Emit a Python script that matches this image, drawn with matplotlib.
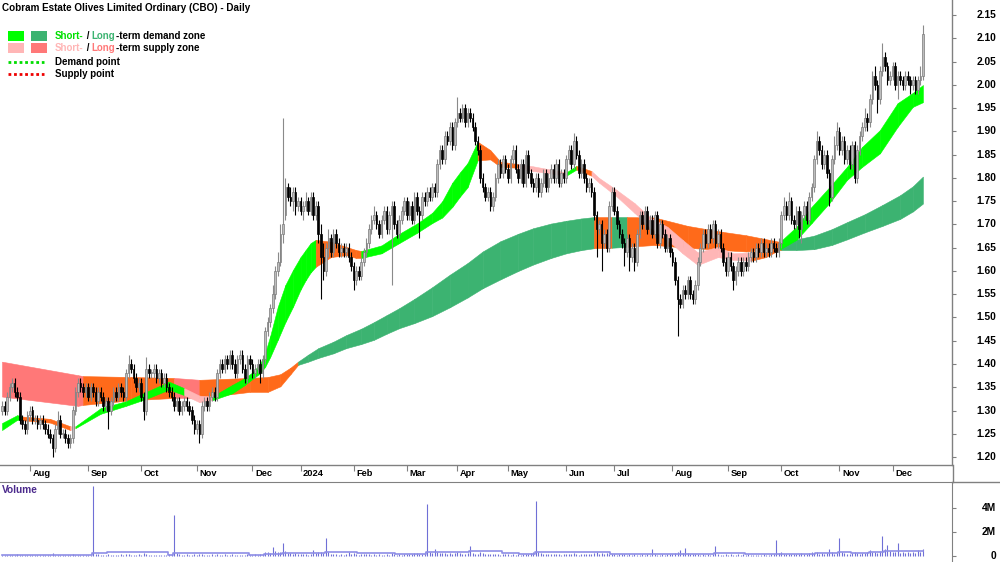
import numpy as np
import pandas as pd
import matplotlib
matplotlib.use("Agg")
import matplotlib.pyplot as plt
import matplotlib.transforms as mtransforms
from matplotlib import font_manager
from matplotlib.lines import Line2D
from matplotlib.patches import Rectangle

# ---------------- data ----------------
start_date = "2023-07-17"
end_date = "2024-12-18"
asx_holidays = ["2023-12-25", "2023-12-26", "2024-01-01", "2024-01-26",
                "2024-03-29", "2024-04-01", "2024-04-25", "2024-06-10"]

opens = [
 1.30,1.31,1.30,1.33,1.35,1.36,1.34,1.33,1.28,1.27, 1.26,1.29,1.30,1.28,1.28,1.27,1.28,1.27,1.26,1.25,
 1.24,1.22,1.26,1.28,1.25,1.25,1.24,1.23,1.24,1.30, 1.34,1.36,1.35,1.34,1.35,1.33,1.35,1.34,1.32,1.34,
 1.33,1.31,1.32,1.30,1.32,1.34,1.33,1.35,1.34,1.33, 1.38,1.40,1.39,1.37,1.35,1.36,1.33,1.30,1.39,1.38,
 1.38,1.39,1.37,1.38,1.36,1.37,1.35,1.34,1.33,1.31, 1.32,1.30,1.31,1.32,1.31,1.30,1.28,1.26,1.27,1.25,
 1.31,1.32,1.31,1.33,1.34,1.33,1.38,1.40,1.39,1.41, 1.40,1.42,1.40,1.38,1.41,1.42,1.39,1.37,1.41,1.40,
 1.38,1.39,1.40,1.38,1.41,1.47,1.49,1.52,1.55,1.60, 1.62,1.68,1.72,1.78,1.76,1.75,1.77,1.74,1.75,1.73,
 1.74,1.75,1.73,1.76,1.72,1.74,1.68,1.63,1.60,1.65, 1.67,1.64,1.68,1.66,1.64,1.65,1.64,1.65,1.63,1.61,
 1.58,1.60,1.59,1.62,1.64,1.66,1.69,1.71,1.72,1.70, 1.68,1.71,1.73,1.69,1.72,1.74,1.70,1.68,1.71,1.73,
 1.75,1.72,1.74,1.71,1.76,1.73,1.72,1.76,1.75,1.77, 1.76,1.78,1.77,1.83,1.86,1.84,1.89,1.88,1.91,1.87,
 1.92,1.94,1.93,1.95,1.92,1.94,1.93,1.91,1.88,1.86, 1.80,1.78,1.76,1.77,1.74,1.76,1.80,1.83,1.81,1.84,
 1.82,1.80,1.84,1.86,1.82,1.80,1.83,1.79,1.85,1.81, 1.79,1.78,1.80,1.77,1.79,1.81,1.78,1.80,1.82,1.80,
 1.83,1.79,1.81,1.80,1.84,1.86,1.83,1.88,1.85,1.81, 1.83,1.80,1.78,1.79,1.77,1.72,1.69,1.70,1.66,1.68,
 1.65,1.74,1.77,1.73,1.70,1.68,1.66,1.64,1.67,1.63, 1.65,1.62,1.68,1.72,1.70,1.73,1.69,1.71,1.68,1.72,
 1.66,1.70,1.68,1.65,1.67,1.64,1.62,1.58,1.54,1.53, 1.56,1.55,1.58,1.55,1.54,1.57,1.62,1.65,1.68,1.66,
 1.69,1.67,1.70,1.66,1.68,1.65,1.62,1.60,1.63,1.61, 1.58,1.60,1.62,1.60,1.62,1.61,1.63,1.64,1.63,1.65,
 1.64,1.66,1.64,1.65,1.64,1.66,1.65,1.64,1.66,1.72, 1.74,1.72,1.75,1.71,1.70,1.73,1.69,1.72,1.74,1.71,
 1.76,1.78,1.84,1.88,1.86,1.83,1.85,1.81,1.76,1.84, 1.87,1.90,1.86,1.88,1.84,1.86,1.83,1.87,1.80,1.86,
 1.89,1.91,1.93,1.92,1.97,2.02,2.00,1.97,2.03,2.06, 2.04,2.01,2.02,2.04,2.00,2.02,2.01,2.00,2.02,2.01,
 2.00,2.01,1.99,2.01,2.02]

highs = [
 1.32,1.32,1.34,1.36,1.37,1.37,1.35,1.34,1.29,1.28, 1.30,1.31,1.31,1.29,1.29,1.29,1.29,1.28,1.27,1.26,
 1.25,1.27,1.30,1.29,1.26,1.26,1.25,1.25,1.31,1.35, 1.37,1.37,1.36,1.36,1.36,1.36,1.36,1.35,1.35,1.35,
 1.34,1.33,1.33,1.33,1.35,1.35,1.36,1.36,1.35,1.39, 1.42,1.41,1.40,1.38,1.37,1.37,1.34,1.415,1.40,1.39,
 1.40,1.40,1.39,1.39,1.38,1.38,1.36,1.35,1.34,1.33, 1.33,1.32,1.33,1.33,1.32,1.31,1.29,1.28,1.28,1.32,
 1.33,1.33,1.34,1.35,1.35,1.39,1.41,1.41,1.42,1.42, 1.43,1.43,1.41,1.42,1.43,1.43,1.40,1.42,1.42,1.41,
 1.40,1.41,1.41,1.42,1.48,1.50,1.53,1.57,1.61,1.64, 1.70,1.93,1.80,1.79,1.78,1.78,1.78,1.76,1.76,1.75,
 1.77,1.76,1.77,1.77,1.75,1.75,1.70,1.66,1.66,1.69, 1.68,1.69,1.69,1.67,1.66,1.66,1.66,1.66,1.64,1.62,
 1.61,1.61,1.63,1.65,1.67,1.70,1.72,1.74,1.73,1.71, 1.72,1.74,1.74,1.73,1.75,1.75,1.71,1.72,1.74,1.76,
 1.76,1.75,1.75,1.77,1.77,1.74,1.77,1.77,1.78,1.78, 1.79,1.79,1.84,1.87,1.87,1.90,1.90,1.92,1.92,1.93,
 1.975,1.95,1.96,1.96,1.95,1.95,1.94,1.92,1.89,1.87, 1.81,1.79,1.78,1.78,1.77,1.81,1.84,1.84,1.85,1.85,
 1.83,1.85,1.87,1.87,1.83,1.84,1.84,1.86,1.86,1.82, 1.80,1.81,1.81,1.80,1.82,1.82,1.81,1.83,1.83,1.84,
 1.84,1.82,1.82,1.85,1.87,1.87,1.897,1.89,1.86,1.84, 1.84,1.81,1.80,1.80,1.78,1.73,1.71,1.71,1.69,1.69,
 1.75,1.78,1.78,1.74,1.71,1.69,1.67,1.68,1.68,1.66, 1.66,1.69,1.73,1.73,1.74,1.74,1.72,1.72,1.73,1.73,
 1.71,1.71,1.69,1.68,1.68,1.65,1.63,1.59,1.55,1.57, 1.57,1.59,1.59,1.56,1.58,1.63,1.66,1.69,1.69,1.70,
 1.70,1.71,1.71,1.69,1.69,1.66,1.63,1.64,1.64,1.62, 1.61,1.63,1.63,1.63,1.63,1.64,1.65,1.65,1.66,1.66,
 1.67,1.67,1.66,1.66,1.67,1.67,1.66,1.67,1.73,1.76, 1.75,1.77,1.76,1.72,1.74,1.74,1.73,1.75,1.75,1.77,
 1.79,1.85,1.90,1.89,1.87,1.86,1.86,1.82,1.85,1.89, 1.92,1.91,1.89,1.89,1.87,1.87,1.88,1.88,1.87,1.90,
 1.92,1.95,1.94,1.98,2.03,2.04,2.01,2.04,2.09,2.07, 2.05,2.03,2.05,2.05,2.03,2.03,2.02,2.03,2.03,2.02,
 2.02,2.02,2.02,2.04,2.13]

lows = [
 1.29,1.29,1.29,1.32,1.34,1.33,1.32,1.27,1.26,1.25, 1.25,1.28,1.27,1.27,1.26,1.26,1.26,1.25,1.24,1.23,
 1.20,1.21,1.25,1.24,1.24,1.23,1.22,1.22,1.23,1.29, 1.33,1.34,1.33,1.33,1.32,1.32,1.33,1.31,1.31,1.32,
 1.30,1.30,1.26,1.29,1.31,1.32,1.32,1.33,1.32,1.32, 1.37,1.38,1.36,1.34,1.34,1.32,1.28,1.29,1.37,1.37,
 1.37,1.36,1.36,1.35,1.35,1.34,1.33,1.32,1.30,1.30, 1.29,1.29,1.30,1.30,1.29,1.27,1.25,1.25,1.23,1.24,
 1.30,1.30,1.30,1.32,1.32,1.32,1.37,1.38,1.38,1.39, 1.39,1.39,1.37,1.37,1.40,1.38,1.36,1.36,1.39,1.37,
 1.37,1.38,1.36,1.37,1.40,1.46,1.48,1.51,1.54,1.59, 1.61,1.66,1.71,1.75,1.74,1.73,1.72,1.73,1.72,1.71,
 1.73,1.72,1.72,1.71,1.71,1.66,1.54,1.58,1.59,1.63, 1.63,1.63,1.65,1.63,1.63,1.63,1.63,1.62,1.60,1.56,
 1.57,1.58,1.58,1.61,1.63,1.65,1.68,1.70,1.69,1.67, 1.67,1.70,1.68,1.68,1.57,1.69,1.67,1.67,1.70,1.72,
 1.71,1.71,1.70,1.70,1.72,1.67,1.71,1.74,1.74,1.75, 1.75,1.76,1.76,1.82,1.83,1.83,1.87,1.87,1.86,1.86,
 1.91,1.92,1.92,1.91,1.91,1.92,1.90,1.87,1.85,1.79, 1.77,1.75,1.75,1.73,1.73,1.75,1.79,1.80,1.80,1.81,
 1.79,1.79,1.83,1.81,1.79,1.79,1.78,1.78,1.80,1.78, 1.77,1.77,1.76,1.76,1.78,1.77,1.77,1.79,1.79,1.79,
 1.78,1.78,1.79,1.79,1.83,1.82,1.82,1.84,1.80,1.80, 1.79,1.77,1.77,1.76,1.71,1.63,1.68,1.60,1.65,1.64,
 1.64,1.73,1.72,1.69,1.67,1.65,1.61,1.63,1.60,1.62, 1.60,1.61,1.67,1.69,1.69,1.68,1.68,1.67,1.67,1.65,
 1.65,1.67,1.64,1.64,1.63,1.61,1.57,1.46,1.52,1.52, 1.54,1.54,1.54,1.53,1.53,1.56,1.61,1.64,1.65,1.65,
 1.66,1.66,1.65,1.65,1.64,1.61,1.59,1.59,1.60,1.56, 1.57,1.59,1.59,1.59,1.60,1.60,1.62,1.62,1.62,1.63,
 1.63,1.63,1.63,1.63,1.63,1.64,1.63,1.63,1.65,1.71, 1.71,1.71,1.70,1.69,1.69,1.67,1.66,1.71,1.70,1.70,
 1.75,1.77,1.83,1.85,1.82,1.82,1.80,1.74,1.75,1.83, 1.86,1.85,1.85,1.83,1.83,1.82,1.82,1.79,1.79,1.85,
 1.88,1.90,1.90,1.91,1.96,1.99,1.94,1.96,2.02,2.03, 2.00,2.00,2.01,1.99,1.97,2.00,1.99,1.99,2.00,1.98,
 1.99,1.98,1.98,2.00,2.01]

closes = [
 1.31,1.30,1.33,1.35,1.36,1.34,1.33,1.28,1.27,1.26, 1.29,1.30,1.28,1.28,1.27,1.28,1.27,1.26,1.25,1.24,
 1.22,1.26,1.28,1.25,1.25,1.24,1.23,1.24,1.30,1.34, 1.36,1.35,1.34,1.35,1.33,1.35,1.34,1.32,1.34,1.33,
 1.31,1.32,1.30,1.32,1.34,1.33,1.35,1.34,1.33,1.38, 1.40,1.39,1.37,1.35,1.36,1.33,1.30,1.39,1.38,1.38,
 1.39,1.37,1.38,1.36,1.37,1.35,1.34,1.33,1.31,1.32, 1.30,1.31,1.32,1.31,1.30,1.28,1.26,1.27,1.25,1.31,
 1.32,1.31,1.33,1.34,1.33,1.38,1.40,1.39,1.41,1.40, 1.42,1.40,1.38,1.41,1.42,1.39,1.37,1.41,1.40,1.38,
 1.39,1.40,1.38,1.41,1.47,1.49,1.52,1.55,1.60,1.62, 1.68,1.70,1.78,1.76,1.75,1.77,1.74,1.75,1.73,1.74,
 1.75,1.73,1.76,1.72,1.74,1.68,1.63,1.60,1.65,1.67, 1.64,1.68,1.66,1.64,1.65,1.64,1.65,1.63,1.61,1.58,
 1.60,1.59,1.62,1.64,1.66,1.69,1.71,1.72,1.70,1.68, 1.71,1.73,1.69,1.72,1.74,1.70,1.68,1.71,1.73,1.75,
 1.72,1.74,1.71,1.76,1.73,1.72,1.76,1.75,1.77,1.76, 1.78,1.77,1.83,1.86,1.84,1.89,1.88,1.91,1.87,1.92,
 1.94,1.93,1.95,1.92,1.94,1.93,1.91,1.88,1.86,1.80, 1.78,1.76,1.77,1.74,1.76,1.80,1.83,1.81,1.84,1.82,
 1.80,1.84,1.86,1.82,1.80,1.83,1.79,1.85,1.81,1.79, 1.78,1.80,1.77,1.79,1.81,1.78,1.80,1.82,1.80,1.83,
 1.79,1.81,1.80,1.84,1.86,1.83,1.88,1.85,1.81,1.83, 1.80,1.78,1.79,1.77,1.72,1.69,1.70,1.66,1.68,1.65,
 1.74,1.77,1.73,1.70,1.68,1.66,1.64,1.67,1.63,1.65, 1.62,1.68,1.72,1.70,1.73,1.69,1.71,1.68,1.72,1.66,
 1.70,1.68,1.65,1.67,1.64,1.62,1.58,1.54,1.53,1.56, 1.55,1.58,1.55,1.54,1.57,1.62,1.65,1.68,1.66,1.69,
 1.67,1.70,1.66,1.68,1.65,1.62,1.60,1.63,1.61,1.58, 1.60,1.62,1.60,1.62,1.61,1.63,1.64,1.63,1.65,1.64,
 1.66,1.64,1.65,1.64,1.66,1.65,1.64,1.66,1.72,1.74, 1.72,1.75,1.71,1.70,1.73,1.69,1.72,1.74,1.71,1.76,
 1.78,1.84,1.88,1.86,1.83,1.85,1.81,1.76,1.84,1.87, 1.90,1.86,1.88,1.84,1.86,1.83,1.87,1.80,1.86,1.89,
 1.91,1.93,1.92,1.97,2.02,2.00,1.97,2.03,2.06,2.04, 2.01,2.02,2.04,2.00,2.02,2.01,2.00,2.02,2.01,2.00,
 2.01,1.99,2.01,2.02,2.11]

# volume in millions of shares
volume_m = [
 0.08,0.05,0.12,0.10,0.06,0.09,0.15,0.07,0.11,0.06, 0.05,0.08,0.10,0.06,0.12,0.07,0.05,0.09,0.11,0.08,
 0.22,0.10,0.07,0.06,0.09,0.05,0.08,0.12,0.15,0.10, 0.07,0.09,0.06,0.10,0.08,0.12,5.80,0.20,0.15,0.12,
 0.10,0.08,0.18,0.09,0.12,0.07,0.10,0.14,0.08,0.20, 0.16,0.12,0.10,0.08,0.13,0.09,0.25,0.15,0.10,0.08,
 0.12,0.09,0.11,0.07,0.10,0.08,0.14,0.20,3.40,0.25, 0.18,0.12,0.10,0.15,0.09,0.11,0.14,0.08,0.20,0.16,
 0.12,0.10,0.09,0.13,0.08,0.15,0.12,0.10,0.18,0.11, 0.09,0.14,0.10,0.12,0.08,0.11,0.09,0.13,0.10,0.12,
 0.15,0.10,0.20,0.18,0.35,0.30,0.25,0.75,0.40,0.35, 0.30,1.10,0.45,0.28,0.22,0.18,0.25,0.15,0.20,0.14,
 0.18,0.12,0.20,0.50,0.25,0.30,0.35,0.22,1.50,0.30, 0.20,0.15,0.18,0.12,0.16,0.10,0.14,0.30,0.18,0.22,
 0.15,0.12,0.18,0.14,0.20,0.16,0.12,0.18,0.10,0.14, 0.12,0.09,0.15,0.11,0.25,0.13,0.10,0.16,0.12,0.14,
 0.18,0.20,0.15,0.22,0.25,0.18,0.20,0.30,4.30,0.35, 0.28,0.60,0.30,0.25,0.22,0.28,0.20,0.24,0.18,0.22,
 0.30,0.25,0.20,0.18,0.22,0.80,0.25,0.20,0.18,0.30, 0.22,0.18,0.15,0.20,0.16,0.14,0.18,0.12,0.15,0.13,
 0.16,0.12,0.14,0.10,0.15,0.12,0.18,0.14,0.20,0.25, 0.30,4.60,0.35,0.25,0.20,0.18,0.15,0.20,0.16,0.14,
 0.18,0.12,0.15,0.20,0.14,0.16,0.22,0.18,0.12,0.15, 0.14,0.18,0.20,0.15,0.25,0.30,0.20,0.28,0.18,0.22,
 0.20,0.15,0.18,0.12,0.16,0.14,0.20,0.12,0.15,0.10, 0.14,0.12,0.10,0.13,0.11,0.15,0.12,0.60,0.14,0.10,
 0.12,0.15,0.10,0.14,0.18,0.20,0.25,0.30,0.50,0.28, 0.70,0.22,0.18,0.15,0.20,0.14,0.12,0.16,0.10,0.14,
 0.12,0.15,0.80,0.18,0.12,0.10,0.14,0.12,0.16,0.10, 0.12,0.15,0.10,0.13,0.11,0.14,0.10,0.12,0.09,0.11,
 0.10,0.13,0.09,0.12,0.15,0.14,1.30,0.25,0.30,0.20, 0.18,0.15,0.20,0.14,0.18,0.16,0.22,0.15,0.18,0.25,
 0.30,0.25,0.35,0.20,0.22,0.18,0.25,0.60,0.30,0.20, 0.25,1.50,0.30,0.22,0.18,0.20,0.25,0.30,0.22,0.20,
 0.25,0.22,0.30,0.50,0.35,0.30,0.28,0.40,1.70,0.60, 0.90,0.45,0.35,0.30,1.10,0.25,0.30,0.22,0.35,0.28,
 0.30,0.25,0.50,0.35,0.60]

# short-term zone: knots (trading-day index), upper edge, lower edge, zone state
st_day = [0, 6, 8, 19, 27, 29, 39, 49, 57, 66, 72, 78, 83, 91, 96, 99, 102, 104, 106, 109,
          112, 115, 118, 120, 122, 124, 130, 136, 140, 142, 150, 157, 164, 170, 174, 178, 181,
          184, 188, 193, 197, 204, 210, 223, 227, 233, 236, 243, 250, 256, 263, 269, 275, 283,
          289, 296, 302, 307, 314, 320, 327, 334, 340, 347, 354, 360, 364]
st_up = [1.273, 1.290, 1.287, 1.282, 1.266, 1.266, 1.305, 1.320, 1.340, 1.362, 1.348, 1.332,
         1.330, 1.355, 1.370, 1.382, 1.400, 1.424, 1.460, 1.523, 1.570, 1.602, 1.630, 1.645,
         1.660, 1.667, 1.663, 1.652, 1.645, 1.643, 1.655, 1.680, 1.702, 1.725, 1.750, 1.790,
         1.812, 1.832, 1.878, 1.860, 1.835, 1.830, 1.825, 1.812, 1.826, 1.815, 1.800, 1.774,
         1.746, 1.716, 1.695, 1.667, 1.640, 1.652, 1.638, 1.640, 1.645, 1.660, 1.695, 1.738,
         1.780, 1.824, 1.867, 1.903, 1.961, 1.983, 2.000]
st_lo = [1.258, 1.280, 1.279, 1.274, 1.258, 1.262, 1.293, 1.310, 1.325, 1.345, 1.333, 1.318,
         1.322, 1.337, 1.355, 1.368, 1.380, 1.394, 1.415, 1.452, 1.490, 1.523, 1.560, 1.580,
         1.597, 1.609, 1.630, 1.634, 1.628, 1.628, 1.638, 1.660, 1.682, 1.703, 1.715, 1.738,
         1.760, 1.780, 1.838, 1.840, 1.824, 1.822, 1.815, 1.805, 1.818, 1.805, 1.790, 1.760,
         1.725, 1.695, 1.667, 1.638, 1.613, 1.630, 1.624, 1.622, 1.630, 1.645, 1.667, 1.703,
         1.746, 1.796, 1.824, 1.853, 1.910, 1.953, 1.963]
st_state = ["demand", "demand", "neutral", "neutral", "supply", "demand", "demand", "demand",
            "demand", "demand", "supply", "supply", "demand", "demand", "demand", "demand",
            "demand", "demand", "demand", "demand", "demand", "demand", "demand", "demand",
            "demand", "neutral", "neutral", "neutral", "neutral", "demand", "demand", "demand",
            "demand", "demand", "demand", "demand", "demand", "demand", "neutral", "neutral",
            "neutral", "supply", "supply", "demand", "neutral", "supply", "supply", "supply",
            "supply", "supply", "supply", "supply", "supply", "supply", "supply", "neutral",
            "neutral", "demand", "demand", "demand", "demand", "demand", "demand", "demand",
            "demand", "demand", "demand"]

# long-term zone
lt_day = [0, 30, 32, 51, 68, 78, 98, 105, 110, 114, 117, 121, 125, 131, 136, 142, 147, 152,
          157, 163, 170, 177, 184, 190, 197, 204, 210, 217, 223, 229, 234, 241, 247, 258, 271,
          285, 294, 308, 314, 321, 328, 334, 341, 348, 355, 360, 364]
lt_up = [1.405, 1.376, 1.374, 1.372, 1.370, 1.366, 1.370, 1.372, 1.378, 1.392, 1.405, 1.420,
         1.434, 1.448, 1.462, 1.476, 1.490, 1.505, 1.520, 1.540, 1.565, 1.592, 1.617, 1.642,
         1.664, 1.680, 1.692, 1.702, 1.708, 1.713, 1.716, 1.716, 1.716, 1.715, 1.697, 1.684,
         1.677, 1.662, 1.668, 1.676, 1.690, 1.705, 1.722, 1.742, 1.763, 1.782, 1.803]
lt_lo = [1.330, 1.310, 1.312, 1.322, 1.327, 1.327, 1.340, 1.340, 1.352, 1.378, 1.398, 1.405,
         1.413, 1.423, 1.434, 1.443, 1.452, 1.465, 1.477, 1.488, 1.503, 1.522, 1.543, 1.563,
         1.582, 1.600, 1.614, 1.628, 1.638, 1.645, 1.649, 1.650, 1.652, 1.656, 1.650, 1.645,
         1.642, 1.645, 1.645, 1.647, 1.656, 1.668, 1.683, 1.697, 1.712, 1.728, 1.745]
lt_state = ["supply", "supply", "neutral", "neutral", "supply", "neutral", "neutral", "neutral",
            "neutral", "neutral", "demand", "demand", "demand", "demand", "demand", "demand",
            "demand", "demand", "demand", "demand", "demand", "demand", "demand", "demand",
            "demand", "demand", "demand", "demand", "demand", "demand", "neutral", "demand",
            "neutral", "neutral", "neutral", "neutral", "neutral", "demand", "demand", "demand",
            "demand", "demand", "demand", "demand", "demand", "demand", "demand"]

price_ticks = [1.20, 1.25, 1.30, 1.35, 1.40, 1.45, 1.50, 1.55, 1.60, 1.65, 1.70, 1.75,
               1.80, 1.85, 1.90, 1.95, 2.00, 2.05, 2.10, 2.15]
volume_ticks_m = [0, 2, 4]
title_text = "Cobram Estate Olives Limited Ordinary (CBO) - Daily"

# ---------------- styling ----------------
W, H = 1000, 562


def font_available(name):
    try:
        font_manager.findfont(name, fallback_to_default=False)
        return True
    except Exception:
        return False


FONT = "Liberation Sans Narrow" if font_available("Liberation Sans Narrow") else "Liberation Sans"
C_SD, C_LD = "#00FF00", "#3CB371"
C_SS, C_LS = "#FFB6B6", "#FF7878"
C_NEU = "#FF6A1A"
st_colors = {"demand": C_SD, "supply": C_SS, "neutral": C_NEU}
lt_colors = {"demand": C_LD, "supply": C_LS, "neutral": C_NEU}
AXC = "#808080"

fig = plt.figure(figsize=(W / 100, H / 100), dpi=100)
renderer = fig.canvas.get_renderer()


def fitted_size(s, target_px, base=10.0):
    t = fig.text(0, 0, s, fontsize=base, fontweight="bold", family=FONT)
    w = t.get_window_extent(renderer=renderer).width
    t.remove()
    return base * target_px / w


def fx(px):
    return px / W


def fy(py):
    return 1 - py / H


ax = fig.add_axes([0, 97 / H, 952 / W, 465 / H])
axv = fig.add_axes([0, 0, 952 / W, 80 / H])

n = len(closes)
x = np.arange(n)
o = np.array(opens); hi = np.array(highs); lo = np.array(lows); c = np.array(closes)
dates = pd.bdate_range(start_date, end_date, freq="C", holidays=asx_holidays)[:n]


def draw_band(a, days, up, low, states, cmap, z):
    for i in range(len(days) - 1):
        col = cmap[states[i]]
        a.fill_between([days[i], days[i + 1]], [up[i], up[i + 1]], [low[i], low[i + 1]],
                       facecolor=col, edgecolor=col, linewidth=0.4, zorder=z)


draw_band(ax, lt_day, lt_up, lt_lo, lt_state, lt_colors, 1)
draw_band(ax, st_day, st_up, st_lo, st_state, st_colors, 2)

# candles
up_mask = c >= o
wick_col = np.where(up_mask, "#8a8a8a", "#000000")
ax.vlines(x, lo, hi, colors=wick_col, linewidth=0.8, zorder=3)
body_bottom = np.minimum(o, c)
body_h = np.maximum(np.abs(c - o), 0.002)
ax.bar(x[up_mask], body_h[up_mask], bottom=body_bottom[up_mask], width=0.62,
       color="#bdbdbd", edgecolor="#7a7a7a", linewidth=0.5, zorder=4)
ax.bar(x[~up_mask], body_h[~up_mask], bottom=body_bottom[~up_mask], width=0.62,
       color="#000000", edgecolor="#000000", linewidth=0.5, zorder=4)

xmin, xmax = -0.8, 375.5
ax.set_xlim(xmin, xmax)
ax.set_ylim(1.20 - 8 / 465, 1.20 + 457 / 465)
for s in ["top", "left"]:
    ax.spines[s].set_visible(False)
for s in ["right", "bottom"]:
    ax.spines[s].set_color(AXC)
    ax.spines[s].set_linewidth(1)

# month ticks
month_starts = [i for i in range(1, n) if dates[i].month != dates[i - 1].month]
month_labels = ["2024" if dates[i].month == 1 else dates[i].strftime("%b") for i in month_starts]
ax.set_xticks(month_starts)
ax.set_xticklabels([])
ax.tick_params(axis="x", direction="out", length=4, color=AXC, width=0.8)
fs_month = fitted_size("Aug", 18)
btrans = mtransforms.blended_transform_factory(ax.transData, fig.transFigure)
for i, lab in zip(month_starts, month_labels):
    ax.text(i + 1.0, fy(474), lab, transform=btrans, ha="left", va="center",
            fontsize=fs_month, fontweight="bold", family=FONT, clip_on=False)

# price axis on the right
fs_tick = fitted_size("2.15", 20)
ax.yaxis.tick_right()
ax.set_yticks(price_ticks)
ax.set_yticklabels([])
ax.tick_params(axis="y", direction="out", length=3, color=AXC, width=0.8)
ytrans = mtransforms.blended_transform_factory(fig.transFigure, ax.transData)
for v in price_ticks:
    ax.text(fx(996), v, f"{v:.2f}", transform=ytrans, ha="right", va="center",
            fontsize=fs_tick, fontweight="bold", family=FONT, clip_on=False)

# volume panel
vol = np.array(volume_m)
axv.vlines(x, 0, vol, colors="#6f6fd6", linewidth=0.8, zorder=2)
vol_ma = pd.Series(vol).rolling(30, min_periods=1).mean().to_numpy()
axv.step(x, vol_ma, where="mid", color="#8e8ee6", linewidth=1.2, zorder=3)
axv.set_xlim(xmin, xmax)
axv.set_ylim(-0.5, 74 / 12)
for s in ["bottom", "left"]:
    axv.spines[s].set_visible(False)
axv.spines["right"].set_color(AXC)
axv.spines["top"].set_color(AXC)
axv.set_xticks([])
axv.yaxis.tick_right()
axv.set_yticks(volume_ticks_m)
axv.set_yticklabels([])
axv.tick_params(axis="y", direction="out", length=3, color=AXC, width=0.8)
vtrans = mtransforms.blended_transform_factory(fig.transFigure, axv.transData)
for v in volume_ticks_m:
    axv.text(fx(996), v, "0" if v == 0 else f"{v}M", transform=vtrans, ha="right",
             va="center", fontsize=fs_tick, fontweight="bold", family=FONT, clip_on=False)
fig.text(fx(2), fy(490), "Volume", ha="left", va="center",
         fontsize=fitted_size("Volume", 36), fontweight="bold", color="#4b2a8c", family=FONT)
fig.add_artist(Line2D([952 / W, 1], [fy(482)] * 2, transform=fig.transFigure,
                      color=AXC, linewidth=1))
# right axis line continues through the date strip
fig.add_artist(Line2D([952.5 / W, 952.5 / W], [fy(465), fy(482)], transform=fig.transFigure,
                      color=AXC, linewidth=1))

# title and legend
fig.text(fx(2), fy(8), title_text, ha="left", va="center",
         fontsize=fitted_size(title_text, 248), fontweight="bold", family=FONT)

fs_leg = fitted_size("Short- / Long-term demand zone", 150)


def multicolor(px, py, parts):
    cur = px
    for s, col in parts:
        t = fig.text(fx(cur), fy(py), s, ha="left", va="center", fontsize=fs_leg,
                     fontweight="bold", family=FONT, color=col)
        cur += t.get_window_extent(renderer=renderer).width


for (px, col) in [(8, C_SD), (31, C_LD)]:
    fig.add_artist(Rectangle((fx(px), fy(41)), 16 / W, 10 / H, transform=fig.transFigure,
                             facecolor=col, edgecolor="none"))
for (px, col) in [(8, C_SS), (31, C_LS)]:
    fig.add_artist(Rectangle((fx(px), fy(53)), 16 / W, 10 / H, transform=fig.transFigure,
                             facecolor=col, edgecolor="none"))
multicolor(55, 36, [("Short-", "#00E000"), (" / ", "black"), ("Long", C_LD),
                    ("-term demand zone", "black")])
multicolor(55, 48, [("Short-", C_SS), (" / ", "black"), ("Long", C_LS),
                    ("-term supply zone", "black")])
fig.add_artist(Line2D([fx(8), fx(44)], [fy(62)] * 2, transform=fig.transFigure,
                      color="#00DD00", linewidth=2, linestyle=(0, (1, 1))))
fig.add_artist(Line2D([fx(8), fx(44)], [fy(74)] * 2, transform=fig.transFigure,
                      color="#EE0000", linewidth=2, linestyle=(0, (1, 1))))
fig.text(fx(55), fy(62), "Demand point", ha="left", va="center", fontsize=fs_leg,
         fontweight="bold", family=FONT)
fig.text(fx(55), fy(74), "Supply point", ha="left", va="center", fontsize=fs_leg,
         fontweight="bold", family=FONT)

fig.savefig("out.png", dpi=100)
